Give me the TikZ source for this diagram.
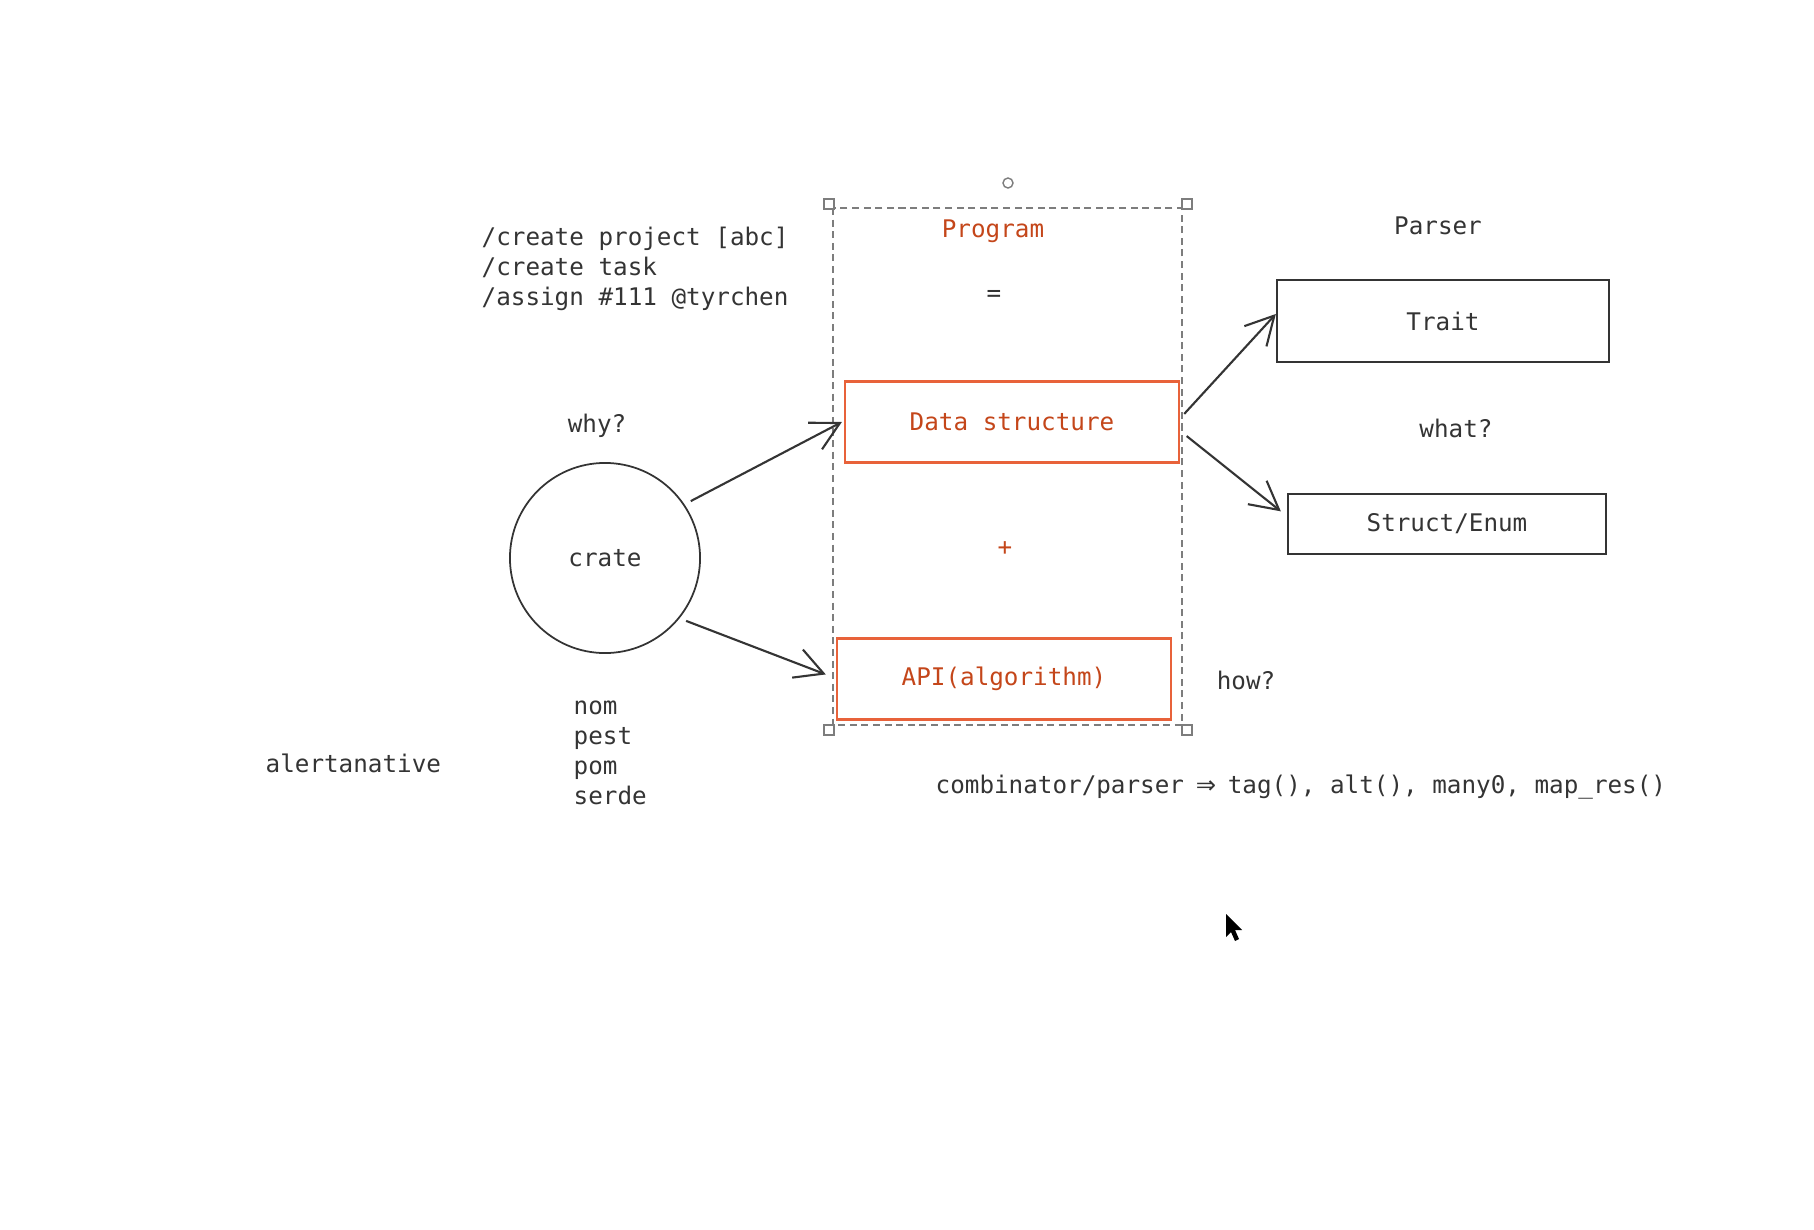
\documentclass[tikz,border=0pt]{standalone}
\usepackage{fontspec}
\setmonofont{DejaVu Sans Mono}
\newfontfamily\arrowfont{DejaVu Sans}
\usetikzlibrary{arrows.meta,positioning,calc}
\definecolor{inkgray}{RGB}{52,52,52}
\definecolor{hotline}{RGB}{232,98,58}
\definecolor{hottext}{RGB}{196,70,26}
\definecolor{framegray}{RGB}{125,125,125}
\tikzset{
  % hand-drawn looking boxes
  sketchbox/.style={draw=inkgray, line width=0.6pt, inner sep=0pt, text=inkgray},
  hotbox/.style={draw=hotline, line width=0.6pt, inner sep=0pt, text=hottext},
  % free labels
  note/.style={text=inkgray, inner sep=0pt, yshift=-0.8pt},
  hotnote/.style={text=hottext, inner sep=0pt, yshift=-0.8pt},
  % open two-stroke arrows
  sketcharr/.style={-{Straight Barb[length=2.8mm,width=3mm]}, line width=0.6pt, inkgray},
  % selection frame round the middle column
  selframe/.style={draw=framegray, line width=0.4pt, dash pattern=on 2pt off 1.3pt},
  selknob/.style={draw=framegray, fill=white, line width=0.4pt, inner sep=0pt, minimum size=1mm},
}
\newcommand{\selcorner}[2]{%
  \node[selknob, rectangle] (#1) at #2 {};
}

\begin{document}
\begin{tikzpicture}[x=0.01cm, y=-0.01cm,
    font=\ttfamily\fontsize{6.9}{8.5}\selectfont]
  % page
  \useasboundingbox (0,0) rectangle (1814,1230);
  % selection frame + knobs
  \draw[selframe] (833,208) rectangle (1182,725);
  \selcorner{knobnw}{(829,204)}
  \selcorner{knobne}{(1187,204)}
  \selcorner{knobsw}{(829,730)}
  \selcorner{knobse}{(1187,730)}
  \node[selknob, circle] (knobrot) at (1008,183) {};
  % middle column: program = data + api
  \node[hotnote] (program) at (993,228) {Program};
  \node[note] (equals) at (994,293) {=};
  \node[hotbox, minimum width=3.33cm, minimum height=0.81cm] (ds) at (1012,422) {Data structure};
  \node[hotnote] (plus) at (1005,546) {+};
  \node[hotbox, minimum width=3.33cm, minimum height=0.81cm] (api) at (1004,679) {API(algorithm)};
  % right column
  \node[note] (parser) at (1438,223) {Parser};
  \node[sketchbox, minimum width=3.32cm, minimum height=0.82cm] (trait) at (1443,321) {Trait};
  \node[note] (what) at (1456,426) {what?};
  \node[sketchbox, minimum width=3.18cm, minimum height=0.60cm] (struct) at (1447,524) {Struct/Enum};
  \node[note] (how) at (1246,678) {how?};
  % left side
  \node[note, align=left, anchor=west] (cmds) at (481,266)
    {/create project [abc]\\/create task\\/assign \#111 @tyrchen};
  \node[note] (why) at (597,423) {why?};
  \node[draw=inkgray, line width=0.5pt, circle, minimum size=1.9cm, text=inkgray] (crate) at (605,558) {crate};
  \node[note, align=left, anchor=west] (libs) at (573,750) {nom\\pest\\pom\\serde};
  \node[note, anchor=west] (alt) at (265,761) {alertanative};
  \node[note, anchor=west] (combo) at (935,784)
    {combinator/parser \makebox[0.6em]{\arrowfont ⇒} tag(), alt(), many0, map\_res()};
  % arrows
  \draw[sketcharr, shorten <=2pt] (crate.34) -- ([xshift=-0.7pt]ds.west);
  \draw[sketcharr, shorten <=2pt] (crate.-39) -- ([xshift=-3pt, yshift=1.3pt]api.west);
  \draw[sketcharr] ([xshift=1.3pt, yshift=2.3pt]ds.east) -- ([yshift=2pt]trait.west);
  \draw[sketcharr] ([xshift=2pt, yshift=-4pt]ds.east) -- ([xshift=-1.7pt, yshift=3.6pt]struct.west);
  % mouse pointer
  \fill[black] (1226,914) -- (1226,937) -- (1231,932) -- (1235,941) -- (1239,939) -- (1235,930) -- (1242,930) -- cycle;
\end{tikzpicture}
\end{document}
